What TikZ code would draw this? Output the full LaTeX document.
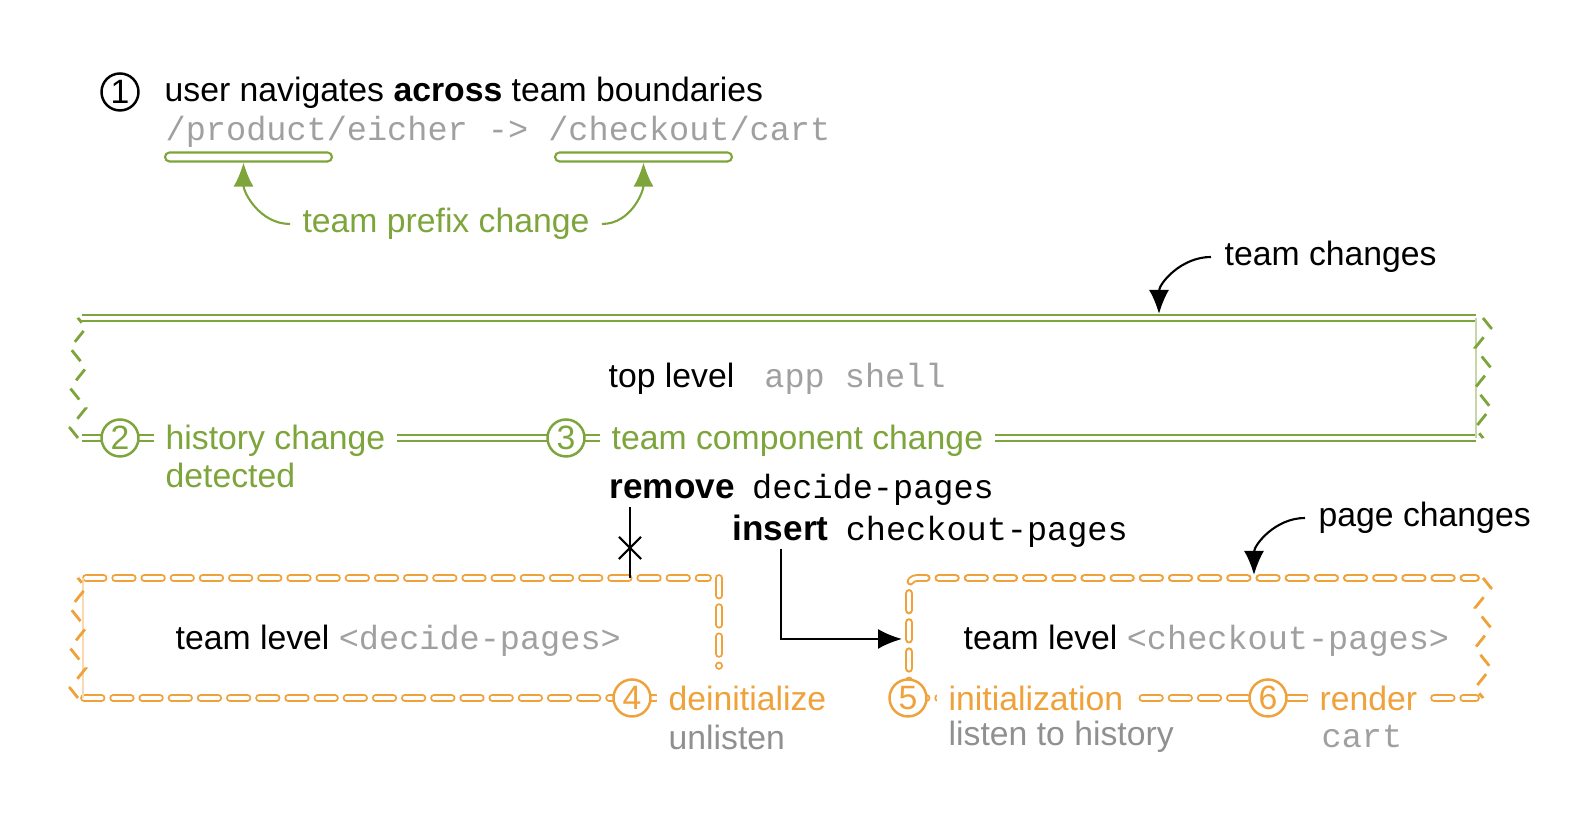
\documentclass[tikz,border=0pt]{standalone}
\usepackage{fontspec}
\setmainfont{Liberation Sans}
\setmonofont{Liberation Mono}
\usepackage{tikz}
\usetikzlibrary{arrows.meta,positioning,decorations.pathmorphing,shapes.misc}
\definecolor{cTeam}{HTML}{7DA53C}
\definecolor{cPage}{HTML}{EFA23A}
\definecolor{cMute}{HTML}{A0A0A0}
\newcommand{\mono}{\fontsize{9.55}{11.5}\selectfont\ttfamily}
\tikzset{
  num/.style={circle, draw, fill=white, line width=0.7pt, minimum size=0.37cm, inner sep=0pt},
  lbl/.style={anchor=west, fill=white, inner xsep=0.12cm, inner ysep=0.03cm},
  txt/.style={anchor=west, inner sep=0pt},
  code/.style={txt, font=\mono, text=cMute},
  bar/.style={draw=cTeam, line width=0.6pt, rounded corners=0.045cm, minimum height=0.09cm, inner sep=0pt},
  teamline/.style={draw=cTeam, double=white, line width=0.6pt, double distance=1pt},
  pageline/.style={draw=cPage, double=white, line width=0.55pt, double distance=1.1pt, line cap=round, dash pattern=on 5pt off 3.3pt},
  jag/.style={decorate, decoration={zigzag, segment length=0.4cm, amplitude=0.08cm}, line width=0.8pt, dash pattern=on 4pt off 3pt},
  callout/.style={-{Latex[length=2.4mm, width=2mm]}, line width=0.6pt},
  cut/.style={cross out, draw, line width=0.6pt, minimum size=0.2cm, inner sep=0pt},
}
\begin{document}
\begin{tikzpicture}[font=\fontsize{9.6}{11.5}\selectfont]
  \useasboundingbox (0,0) rectangle (15.90,8.18);
  % (1) route change
  \node[num] (n1) at (1.20,7.26) {1};
  \node[txt] (nav) at (1.64,7.25) {user navigates \textbf{across} team boundaries};
  \node[code] (url) at (1.65,6.86) {/product/eicher -> /checkout/cart};
  \node[bar, minimum width=1.67cm] (pre1) at (2.485,6.61) {};
  \node[bar, minimum width=1.77cm] (pre2) at (6.435,6.61) {};
  \node[text=cTeam] (pfx) at (4.46,5.94) {team prefix change};
  \draw[callout, cTeam] (pfx.west) to[out=180, in=-90] ([xshift=-0.05cm]pre1.south);
  \draw[callout, cTeam] (pfx.east) to[out=0, in=-90] (pre2.south);

  % app shell
  \coordinate (tl) at (0.80,5.00);
  \coordinate (tr) at (14.76,5.00);
  \coordinate (bl) at (0.80,3.80);
  \coordinate (br) at (14.76,3.80);
  \draw[teamline] ([xshift=0.02cm]tl) -- (tr);
  \draw[teamline] ([xshift=0.02cm]bl) -- (br);
  \draw[jag, cTeam] ([xshift=-0.02cm]bl) -- ([xshift=-0.02cm]tl);
  \draw[cTeam!45, line width=0.4pt] (br) -- (tr);
  \draw[jag, cTeam] ([xshift=0.07cm]tr) -- ([xshift=0.07cm]br);
  \node[txt] (shell) at (6.08,4.39) {top level\hspace{0.3cm}{\mono\color{cMute}app shell}};
  \node[txt] (tch) at (12.24,5.61) {team changes};
  \coordinate (tc) at (11.59,5.04);
  \draw[callout] ([xshift=-0.13cm]tch.west) to[out=180, in=90] (tc);

  \node[num, draw=cTeam, text=cTeam] (n2) at (1.20,3.80) {2};
  \node[lbl, text=cTeam] (hist) at (1.53,3.77) {history change};
  \node[txt, text=cTeam] (det) at (1.65,3.43) {detected};
  \node[num, draw=cTeam, text=cTeam] (n3) at (5.66,3.80) {3};
  \node[lbl, text=cTeam] (comp) at (5.99,3.77) {team component change};

  \node[txt, font=\bfseries] (rmk) at (6.09,3.29) {remove};
  \node[txt, anchor=base west] (rmn) at ([xshift=0.16cm]rmk.base east) {\mono decide-pages};
  \node[txt, font=\bfseries] (ink) at (7.32,2.90) {insert};
  \node[txt, anchor=base west] (inn) at ([xshift=0.16cm]ink.base east) {\mono checkout-pages};

  % decide-pages is removed
  \coordinate (dtl) at (0.80,2.40);
  \coordinate (dbl) at (0.80,1.20);
  \draw[pageline] ([xshift=0.06cm]dtl) -- (7.08,2.40);
  \draw[pageline] (7.19,2.40) -- (7.19,1.52);
  \draw[pageline] ([xshift=0.04cm]dbl) -- (7.19,1.20);
  \draw[cPage!40, line width=0.4pt] ([xshift=0.03cm]dbl) -- ([xshift=0.03cm]dtl);
  \draw[jag, cPage] ([xshift=-0.02cm]dbl) -- ([xshift=-0.02cm]dtl);
  \node[txt] (dlvl) at (1.75,1.77) {team level {\mono\color{cMute}<decide-pages>}};
  \coordinate (rmfoot) at (6.30,2.40);
  \draw[line width=0.6pt] ([xshift=0.21cm, yshift=-0.08cm]rmk.south west) -- (rmfoot);
  \node[cut] (x) at (6.30,2.70) {};
  \node[num, draw=cPage, text=cPage] (n4) at (6.32,1.20) {4};
  \node[lbl, text=cPage] (deinit) at (6.56,1.20) {deinitialize};
  \node[txt, text=cMute!90!black] (unl) at (6.68,0.81) {unlisten};

  % checkout-pages is inserted
  \coordinate (ctl) at (9.09,2.40);
  \coordinate (cbl) at (9.09,1.20);
  \coordinate (ctr) at (14.76,2.40);
  \coordinate (cbr) at (14.76,1.20);
  \draw[pageline, rounded corners=0.08cm] (cbl) -- (ctl) -- (ctr);
  \draw[pageline] (cbl) -- (cbr);
  \draw[jag, cPage] ([xshift=0.07cm]ctr) -- ([xshift=0.07cm]cbr);
  \node[txt] (clvl) at (9.63,1.77) {team level {\mono\color{cMute}<checkout-pages>}};
  \coordinate (rin) at (9.02,1.79);
  \draw[callout] ([yshift=-0.07cm]ink.south) |- (rin);
  \node[txt] (pch) at (13.18,3.00) {page changes};
  \coordinate (pc) at (12.54,2.43);
  \draw[callout] ([xshift=-0.13cm]pch.west) to[out=180, in=90] (pc);

  \node[num, draw=cPage, text=cPage] (n5) at (9.08,1.20) {5};
  \node[lbl, text=cPage] (init) at (9.36,1.20) {initialization\hspace{0.45cm}};
  \node[txt, text=cMute!90!black] (lsn) at (9.48,0.81) {listen to history};
  \node[num, draw=cPage, text=cPage] (n6) at (12.68,1.20) {6};
  \node[lbl, text=cPage] (rnd) at (13.07,1.20) {render};
  \node[code] (cart) at (13.21,0.81) {cart};
\end{tikzpicture}
\end{document}
